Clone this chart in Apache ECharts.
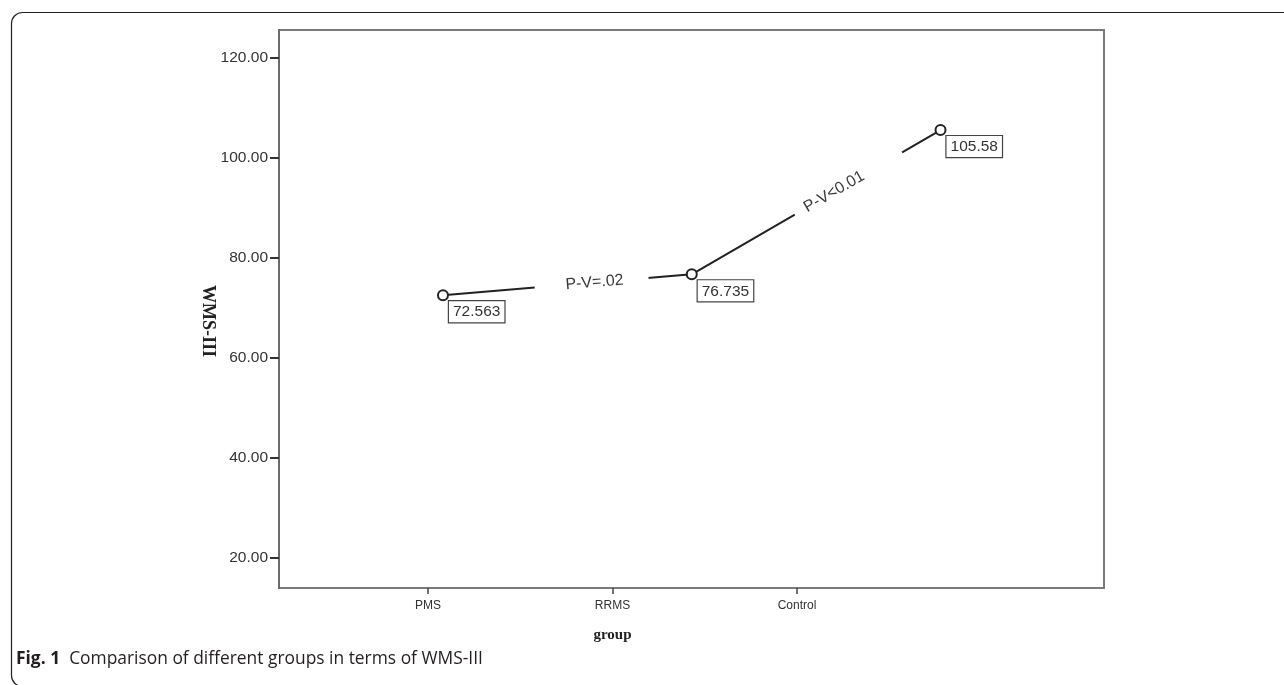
<!DOCTYPE html>
<html>
<head>
<meta charset="utf-8">
<script src="https://cdn.jsdelivr.net/npm/echarts@6/dist/echarts.min.js"></script>
<style>
html,body{margin:0;padding:0;background:#fff;}
#chart{width:1284px;height:685px;}
</style>
</head>
<body>
<div id="chart"></div>
<script>
// ---- data ----
const categories = ['PMS', 'RRMS', 'Control'];
const wmsValues = [72.563, 76.735, 105.58];
const yTickValues = [20, 40, 60, 80, 100, 120];
const pValueLabels = ['P-V=.02', 'P-V<0.01'];
const yAxisTitle = 'WMS-III';
const xAxisTitle = 'group';
const captionBold = 'Fig. 1';
const captionText = 'Comparison of different groups in terms of WMS-III';

const Y_MIN = 14, Y_MAX = 125.6;
const tickFont = 'Liberation Sans, Arial, sans-serif';
const titleFont = 'Liberation Serif, Times New Roman, serif';
const capFont = 'Open Sans, Noto Sans, sans-serif';

const chart = echarts.init(document.getElementById('chart'), null, {renderer: 'canvas'});

const option = {
  backgroundColor: '#fff',
  animation: false,
  grid: [
    // frame grid
    {left: 279, right: 180, top: 30, bottom: 97, show: true, borderColor: '#7a7a7a', borderWidth: 2, backgroundColor: 'transparent'},
    // category label grid
    {left: 335.75, right: 394.75, top: 30, bottom: 97},
    // data grid
    {left: 318.6, right: 219.1, top: 30, bottom: 97}
  ],
  xAxis: [
    {gridIndex: 0, type: 'category', data: categories, show: false},
    {
      gridIndex: 1, type: 'category', data: categories, boundaryGap: true,
      axisLine: {show: false},
      axisTick: {show: true, alignWithLabel: true, length: 6, lineStyle: {color: '#444', width: 1.5}},
      axisLabel: {fontFamily: tickFont, fontSize: 12, color: '#333', margin: 12},
      splitLine: {show: false},
      name: xAxisTitle, nameLocation: 'middle', nameGap: 40, nameMoveOverlap: false,
      nameTextStyle: {fontFamily: titleFont, fontWeight: 'bold', fontSize: 15, color: '#222'}
    },
    {gridIndex: 2, type: 'category', data: categories, show: false, boundaryGap: true}
  ],
  yAxis: [
    {
      gridIndex: 0, type: 'value', min: Y_MIN, max: Y_MAX,
      axisLine: {show: true, lineStyle: {color: '#6a6a6a', width: 2}},
      axisTick: {show: true, length: 9, customValues: yTickValues, lineStyle: {color: '#333', width: 2}},
      axisLabel: {customValues: yTickValues, fontFamily: tickFont, fontSize: 15.5, color: '#333', margin: 11,
        formatter: v => v.toFixed(2)},
      splitLine: {show: false},
      name: yAxisTitle, nameLocation: 'middle', nameRotate: -90, nameGap: 62, nameMoveOverlap: false,
      nameTextStyle: {fontFamily: titleFont, fontWeight: 'bold', fontSize: 18, color: '#222', padding: [0, 0, 0, 24]}
    },
    {gridIndex: 1, type: 'value', min: Y_MIN, max: Y_MAX, show: false},
    {gridIndex: 2, type: 'value', min: Y_MIN, max: Y_MAX, show: false}
  ],
  series: [
    {
      type: 'line',
      xAxisIndex: 2, yAxisIndex: 2,
      data: wmsValues,
      symbol: 'emptyCircle',
      symbolSize: 10,
      showSymbol: true,
      color: '#222',
      itemStyle: {color: '#222', borderWidth: 1.8},
      lineStyle: {color: '#222', width: 2},
      z: 3,
      label: {
        show: true,
        position: [12, 12],
        formatter: p => String(p.value),
        fontFamily: tickFont, fontSize: 15.5, color: '#333',
        backgroundColor: '#fff', borderColor: '#444', borderWidth: 1.2,
        padding: [3, 4, 2, 4]
      },
      markLine: {
        silent: true,
        symbol: ['none', 'none'],
        z: 4,
        lineStyle: {color: 'rgba(0,0,0,0)', width: 1, opacity: 1},
        data: [
          [
            {coord: [categories[0], wmsValues[0]],
             label: {show: true, position: 'insideStart', distance: [92, 0], formatter: pValueLabels[0],
               fontFamily: tickFont, fontSize: 16, color: '#3a3a3a', backgroundColor: '#fff', opacity: 1,
               padding: [3, 25, 3, 31]}},
            {coord: [categories[1], wmsValues[1]]}
          ],
          [
            {coord: [categories[1], wmsValues[1]],
             label: {show: true, position: 'insideStart', distance: [119, 0], formatter: pValueLabels[1],
               fontFamily: tickFont, fontSize: 16, color: '#3a3a3a', backgroundColor: '#fff', opacity: 1,
               padding: [3, 45, 3, 12]}},
            {coord: [categories[2], wmsValues[2]]}
          ]
        ]
      }
    }
  ],
  graphic: [
    {
      type: 'rect', silent: true, z: 10,
      shape: {x: 11.5, y: 12.5, width: 1320, height: 674, r: 11},
      style: {fill: 'none', stroke: '#222', lineWidth: 1.2}
    },
    {
      type: 'text', left: 16, top: 651, z: 10,
      style: {
        text: '{b|' + captionBold + '}  ' + captionText,
        fontFamily: capFont, fontSize: 17.4, fill: '#231f20',
        rich: {b: {fontWeight: 'bold', fontFamily: capFont, fontSize: 17.4, fill: '#231f20'}}
      }
    }
  ]
};

chart.setOption(option);
</script>
</body>
</html>
